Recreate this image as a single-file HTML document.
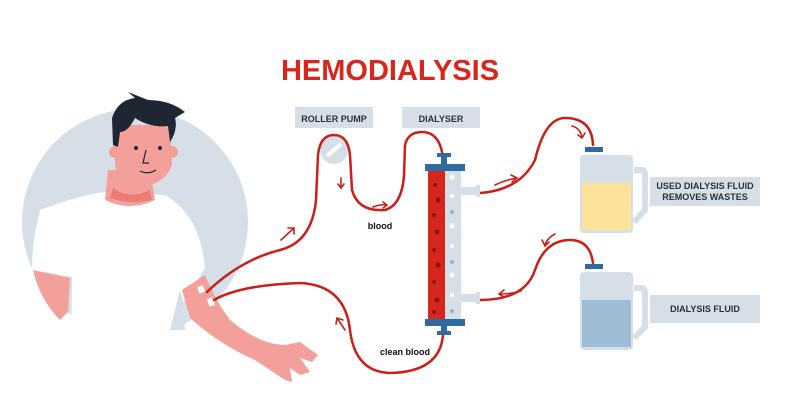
<!DOCTYPE html>
<html><head><meta charset="utf-8"><style>
html,body{margin:0;padding:0;background:#fff;}
svg{display:block;}
</style></head><body>
<svg width="800" height="420" viewBox="0 0 800 420" xmlns="http://www.w3.org/2000/svg" font-family="Liberation Sans, sans-serif">
<rect width="800" height="420" fill="#fff"/>
<text x="390" y="80" text-anchor="middle" font-size="29" font-weight="bold" fill="#d9261c">HEMODIALYSIS</text>
<!-- circle bg -->
<circle cx="135" cy="222" r="113" fill="#d6dfe8"/>
<!-- left arm -->
<path d="M33 270 L70 278 L68 312 L60 320 Q40 300 33 270Z" fill="#f4a09a"/>
<!-- shirt -->
<path d="M105 192 Q80 195 40 210 Q32 240 32 270 L72 277 L70 420 L175 420 L172 320 L205 268 Q200 215 165 195 Z" fill="#fff"/>
<!-- right arm -->
<path d="M182 290 L205 275 Q215 300 230 320 Q260 345 285 345 L300 342 L318 355 L312 362 L300 358 L310 372 L300 375 L290 368 L292 382 L285 380 Q270 370 255 360 Q220 345 190 318 Z" fill="#f4a09a"/>
<path d="M180 290 L183 300 L185 330 L170 330 Z" fill="#d6dfe8"/>
<rect x="198" y="286" width="6" height="7" fill="#fff" transform="rotate(-20 201 289)"/>
<rect x="208" y="298" width="6" height="8" fill="#fff" transform="rotate(-20 211 302)"/>
<!-- neck -->
<path d="M108 170 L150 170 L155 200 Q130 212 105 200Z" fill="#f4a09a"/>
<path d="M113 188 Q130 200 150 190 L152 200 Q130 205 110 198Z" fill="#ee7b76"/>
<!-- face -->
<path d="M115 125 L170 125 L172 165 Q165 185 140 186 Q118 185 115 165Z" fill="#f4a09a"/>
<circle cx="115" cy="152" r="6" fill="#f4a09a"/><circle cx="172" cy="152" r="6" fill="#f4a09a"/>
<!-- hair -->
<path d="M113 145 L112 118 Q118 100 135 98 L128 92 L148 100 Q170 100 185 112 L175 118 Q178 130 170 142 L168 126 Q150 128 135 118 Q128 132 120 132 L118 147Z" fill="#1f2633"/>
<circle cx="136" cy="148" r="2" fill="#1f2633"/><circle cx="160" cy="148" r="2" fill="#1f2633"/>
<path d="M146 150 L143 163 L149 163" fill="none" stroke="#1f2633" stroke-width="1.2"/>
<path d="M140 171 Q148 175 156 170" fill="none" stroke="#1f2633" stroke-width="1.2"/>
<!-- labels -->
<rect x="295" y="107" width="78" height="21" fill="#d6dfe8"/>
<text x="334" y="122" text-anchor="middle" font-size="9" font-weight="bold" fill="#263238">ROLLER PUMP</text>
<rect x="402" y="107" width="78" height="21" fill="#d6dfe8"/>
<text x="441" y="122" text-anchor="middle" font-size="9" font-weight="bold" fill="#263238">DIALYSER</text>
<rect x="650" y="177" width="110" height="29" fill="#d6dfe8"/>
<text x="705" y="189" text-anchor="middle" font-size="9" font-weight="bold" fill="#263238">USED DIALYSIS FLUID</text>
<text x="705" y="200" text-anchor="middle" font-size="9" font-weight="bold" fill="#263238">REMOVES WASTES</text>
<rect x="650" y="295" width="110" height="28" fill="#d6dfe8"/>
<text x="705" y="312" text-anchor="middle" font-size="9" font-weight="bold" fill="#263238">DIALYSIS FLUID</text>
<text x="380" y="229" text-anchor="middle" font-size="9" font-weight="bold" fill="#111">blood</text>
<text x="405" y="355" text-anchor="middle" font-size="9" font-weight="bold" fill="#111">clean blood</text>
<!-- pump -->
<circle cx="334" cy="150" r="14" fill="#d6dfe8"/>
<line x1="327" y1="156" x2="341" y2="144" stroke="#fff" stroke-width="4"/>
<!-- tubes -->
<g fill="none" stroke="#c8201a" stroke-width="2.5" stroke-linecap="round">
<path d="M207 292 Q240 260 280 250 Q312 242 316 200 L318 155 Q320 135 334 135 Q348 135 350 155 L352 190 Q358 212 385 210 Q402 205 404 175 L405 145 Q408 132 422 132 Q440 132 443 158"/>
<path d="M214 300 Q240 285 300 283 Q345 285 350 330 Q355 372 390 373 Q440 372 443 335"/>
<path d="M480 193 Q520 190 535 160 Q545 118 565 118 Q592 118 593 145"/>
<path d="M480 300 Q525 300 535 270 Q545 240 570 240 Q590 240 593 263"/>
</g>
<!-- arrows -->
<g fill="none" stroke="#c8201a" stroke-width="1.6" stroke-linecap="round">
<path d="M281 240 L294 228 M288 228 L294 228 L294 234"/>
<path d="M341 178 L341 187 M338 184 L341 188 L344 184"/>
<path d="M373 207 Q380 204 387 205 M383 202 L387 205 L383 208"/>
<path d="M345 330 L337 318 M336 324 L337 318 L343 320"/>
<path d="M495 185 Q505 180 517 178 M511 175 L517 178 L512 182"/>
<path d="M572 126 Q580 128 582 137 M578 135 L582 138 L585 133"/>
<path d="M555 234 Q547 238 545 245 M542 240 L545 246 L549 242"/>
<path d="M521 291 Q510 294 500 294 M504 290 L499 294 L504 297"/>
</g>
<!-- dialyser -->
<rect x="445" y="170" width="16" height="150" fill="#d6dfe8"/>
<rect x="428" y="170" width="17" height="150" fill="#d7261e"/>
<g fill="#8f1510"><circle cx="435" cy="185" r="2"/><circle cx="438" cy="200" r="2.5"/><circle cx="434" cy="215" r="2"/><circle cx="437" cy="232" r="2.5"/><circle cx="434" cy="250" r="2"/><circle cx="438" cy="265" r="2.5"/><circle cx="434" cy="282" r="2"/><circle cx="437" cy="300" r="2.5"/><circle cx="434" cy="312" r="2"/></g>
<g fill="#fff"><circle cx="452" cy="177" r="2.5"/><circle cx="452" cy="196" r="2"/><circle cx="452" cy="226" r="2.5"/><circle cx="452" cy="246" r="2"/><circle cx="452" cy="275" r="2.5"/><circle cx="452" cy="295" r="2"/></g>
<g fill="#9fb0c0"><circle cx="452" cy="212" r="2"/><circle cx="452" cy="262" r="2"/><circle cx="452" cy="311" r="2"/></g>
<rect x="461" y="187" width="17" height="8" fill="#d6dfe8"/><rect x="476" y="185" width="4" height="12" fill="#d6dfe8"/>
<rect x="461" y="294" width="17" height="8" fill="#d6dfe8"/><rect x="476" y="292" width="4" height="12" fill="#d6dfe8"/>
<rect x="425" y="164" width="40" height="7" fill="#2f6aa0"/>
<rect x="437" y="153" width="14" height="4" fill="#2f6aa0"/><rect x="441" y="156" width="6" height="9" fill="#2f6aa0"/>
<rect x="425" y="319" width="40" height="7" fill="#2f6aa0"/>
<rect x="441" y="325" width="6" height="8" fill="#2f6aa0"/><rect x="437" y="331" width="14" height="4" fill="#2f6aa0"/>
<!-- jug 1 -->
<rect x="585" y="147" width="18" height="5" fill="#2f6aa0"/>
<path d="M634 170 L642 170 Q645 170 645 175 L645 210 L634 222" fill="none" stroke="#d6dfe8" stroke-width="6"/>
<rect x="580" y="155" width="53" height="78" rx="4" fill="#d6dfe8"/>
<rect x="582" y="183" width="49" height="47" fill="#fce29a"/>
<!-- jug 2 -->
<rect x="585" y="264" width="18" height="5" fill="#2f6aa0"/>
<path d="M634 288 L642 288 Q645 288 645 293 L645 327 L634 338" fill="none" stroke="#d6dfe8" stroke-width="6"/>
<rect x="580" y="272" width="53" height="78" rx="4" fill="#d6dfe8"/>
<rect x="582" y="300" width="49" height="47" fill="#9dbdd6"/>
</svg>
</body></html>
